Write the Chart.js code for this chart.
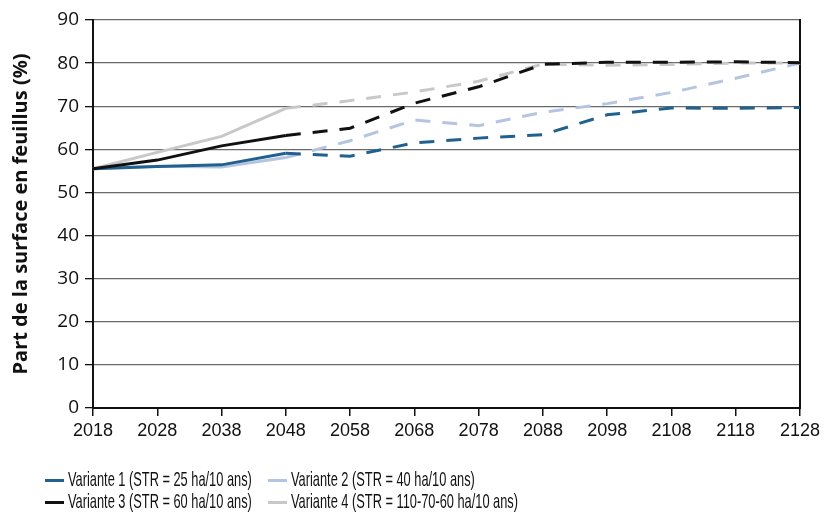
<!DOCTYPE html>
<html>
<head>
<meta charset="utf-8">
<script src="https://cdn.jsdelivr.net/npm/chart.js@4"></script>
<style>
  html, body { margin: 0; padding: 0; background: #fff; }
  #wrap { position: relative; width: 826px; height: 513px; }
  #legend { position: absolute; left: 45px; top: 467px; font-family: "Liberation Sans", sans-serif; font-size: 21px; color: #111; }
  .item { position: absolute; white-space: nowrap; height: 24px; }
  .sw { position: absolute; left: 0; top: 12px; width: 19px; height: 3px; }
  .txt { position: absolute; left: 23px; top: 0; transform: scaleX(0.61); transform-origin: 0 0; }
</style>
</head>
<body>
<div id="wrap">
  <canvas id="chart" width="826" height="513"></canvas>
  <div id="legend"></div>
</div>
<script>
  // years on the x axis
  const years = ["2018", "2028", "2038", "2048", "2058", "2068", "2078", "2088", "2098", "2108", "2118", "2128"];

  const seriesNames = [
    "Variante 1 (STR = 25 ha/10 ans)",
    "Variante 2 (STR = 40 ha/10 ans)",
    "Variante 3 (STR = 60 ha/10 ans)",
    "Variante 4 (STR = 110-70-60 ha/10 ans)"
  ];

  const variante1 = [55.5, 56.0, 56.4, 59.1, 58.4, 61.5, 62.6, 63.4, 68.0, 69.6, 69.5, 69.7];
  const variante2 = [55.5, 56.1, 55.9, 58.1, 62.0, 66.8, 65.5, 68.6, 70.6, 73.2, 76.5, 80.0];
  const variante3 = [55.5, 57.5, 60.8, 63.2, 64.9, 70.7, 74.5, 79.7, 80.2, 80.2, 80.3, 80.1];
  const variante4 = [55.5, 59.3, 63.0, 69.5, 71.3, 73.3, 75.8, 79.8, 79.5, 79.7, 80.0, 80.0];

  const colors = ["#21618f", "#b5c4e0", "#111111", "#c8c8c8"];

  // solid up to 2048, dashed after
  const dashFrom = 3;

  const allData = [variante1, variante2, variante3, variante4];

  const datasets = allData.map(function (d, i) {
    return {
      label: seriesNames[i],
      data: d,
      borderColor: colors[i],
      backgroundColor: colors[i],
      borderWidth: 3,
      pointRadius: 0,
      tension: 0,
      fill: false,
      segment: {
        borderDash: function (ctx) {
          return ctx.p0DataIndex >= dashFrom ? [15, 12] : undefined;
        }
      }
    };
  });

  // draw in order so the dark lines sit on top
  const order = [3, 1, 0, 2];
  order.forEach(function (idx, k) { datasets[idx].order = 4 - k; });

  const ctx = document.getElementById("chart").getContext("2d");
  const chart = new Chart(ctx, {
    type: "line",
    data: { labels: years, datasets: datasets },
    options: {
      responsive: false,
      animation: false,
      layout: { padding: { top: 20, right: 26, bottom: 60, left: 9 } },
      plugins: { legend: { display: false }, tooltip: { enabled: false } },
      scales: {
        x: {
          offset: false,
          grid: { drawOnChartArea: false, color: "#111", tickLength: 8, lineWidth: 1.5 },
          border: { color: "#111", width: 2 },
          ticks: {
            color: "#111",
            maxRotation: 0,
            autoSkip: false,
            padding: 4,
            font: { family: "Liberation Sans", size: 18 }
          },
          afterFit: function (scale) { scale.height = 45; }
        },
        y: {
          min: 0,
          max: 90,
          ticks: {
            stepSize: 10,
            color: "#111",
            padding: 6,
            font: { family: "Open Sans", size: 19 }
          },
          grid: {
            color: "#6a6a6a",
            lineWidth: 1.3,
            tickLength: 8,
            tickColor: "#111"
          },
          border: { color: "#111", width: 2 },
          title: {
            display: true,
            text: "Part de la surface en feuillus (%)",
            color: "#111",
            padding: { top: 0, bottom: 2 },
            font: { family: "Open Sans", size: 20, weight: "bold" }
          },
          afterFit: function (scale) { scale.width = 84; }
        },
        y2: {
          position: "right",
          min: 0,
          max: 90,
          ticks: { display: false },
          grid: { drawOnChartArea: false, drawTicks: false },
          border: { color: "#111", width: 2 },
          afterFit: function (scale) { scale.width = 0; }
        }
      }
    }
  });

  // legend in two columns, like the original
  const legend = document.getElementById("legend");
  const pos = [[0, 0], [223, 0], [0, 22], [223, 22]];
  seriesNames.forEach(function (name, i) {
    const item = document.createElement("div");
    item.className = "item";
    item.style.left = pos[i][0] + "px";
    item.style.top = pos[i][1] + "px";
    item.innerHTML = '<span class="sw" style="background:' + colors[i] + '"></span><span class="txt">' + name + "</span>";
    legend.appendChild(item);
  });
</script>
</body>
</html>
